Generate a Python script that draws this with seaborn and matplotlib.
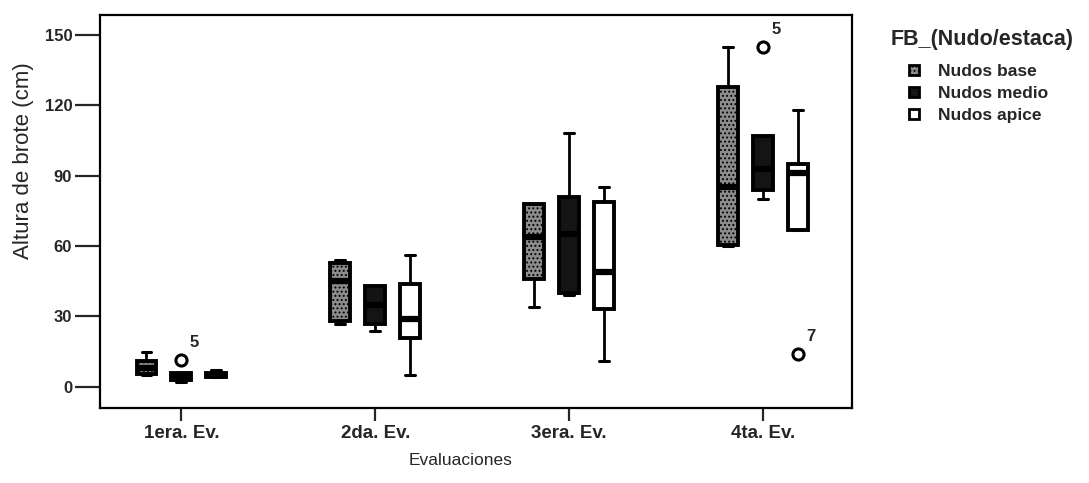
import numpy as np
import pandas as pd
import matplotlib
matplotlib.use("Agg")
import matplotlib.pyplot as plt
from matplotlib.patches import Patch
import seaborn as sns

# ---- data (box-plot summaries) ----
evaluaciones = ["1era. Ev.", "2da. Ev.", "3era. Ev.", "4ta. Ev."]
grupos = ["Nudos base", "Nudos medio", "Nudos apice"]

base_wlow  = [5, 27, 34, 60]
base_q1    = [5.5, 28, 46, 60.5]
base_med   = [8, 45, 64, 85]
base_q3    = [11, 53, 78, 128]
base_whigh = [15, 54, 78, 145]
base_out   = [[], [], [], []]

medio_wlow  = [2, 24, 39, 80]
medio_q1    = [3, 27, 40, 84]
medio_med   = [5, 35, 65, 93]
medio_q3    = [6, 43, 81, 107]
medio_whigh = [6, 43, 108, 107]
medio_out   = [[11.5], [], [], [145]]

apice_wlow  = [4, 5, 11, 67]
apice_q1    = [4, 21, 33, 67]
apice_med   = [5, 29, 49, 91]
apice_q3    = [6, 44, 79, 95]
apice_whigh = [7, 56, 85, 118]
apice_out   = [[], [], [], [14]]

# case numbers written beside the outliers
outlier_values = [11.5, 145, 14]
outlier_cases = ["5", "5", "7"]

summaries = {
    "Nudos base": (base_wlow, base_q1, base_med, base_q3, base_whigh, base_out),
    "Nudos medio": (medio_wlow, medio_q1, medio_med, medio_q3, medio_whigh, medio_out),
    "Nudos apice": (apice_wlow, apice_q1, apice_med, apice_q3, apice_whigh, apice_out),
}

# build samples (n=9) whose quartiles / whiskers reproduce the summaries
rows = []
for g in grupos:
    wl, q1, md, q3, wh, outs = summaries[g]
    for i, ev in enumerate(evaluaciones):
        pts = [wl[i], wl[i], q1[i], q1[i], md[i], q3[i], q3[i], wh[i], wh[i]]
        for o in outs[i]:
            if o > wh[i]:
                pts[-1] = o
            else:
                pts[0] = o
        for p in pts:
            rows.append({"Evaluaciones": ev, "FB": g, "Altura": p})
df = pd.DataFrame(rows)

# ---- styling ----
sns.set_theme(style="white")
plt.rcParams["font.family"] = ["Liberation Sans", "DejaVu Sans"]
plt.rcParams["hatch.color"] = "black"
plt.rcParams["hatch.linewidth"] = 0.9

fill_colors = {"Nudos base": "#8c8c8c", "Nudos medio": "#141414", "Nudos apice": "#ffffff"}

fig = plt.figure(figsize=(10.89, 4.83), dpi=100)
ax = fig.add_axes([0.0918, 0.1553, 0.6906, 0.8137])

sns.boxplot(
    data=df, x="Evaluaciones", y="Altura", hue="FB",
    order=evaluaciones, hue_order=grupos, palette=fill_colors,
    width=0.54, gap=0.43, whis=1.5, legend=False, ax=ax,
    linecolor="black", linewidth=2.2,
    boxprops=dict(edgecolor="black", linewidth=2.8),
    medianprops=dict(color="black", linewidth=4.5),
    whiskerprops=dict(color="black", linewidth=2.0),
    capprops=dict(color="black", linewidth=2.2),
    flierprops=dict(marker="o", markerfacecolor="white", markeredgecolor="black",
                    markersize=8, markeredgewidth=2.2),
)

# pattern for the "base" boxes
for p in ax.patches:
    fc = p.get_facecolor()
    if abs(fc[0] - 0x8c / 255) < 0.02:
        p.set_hatch("....")

# case labels next to outliers
for ln in ax.lines:
    if ln.get_marker() == "o":
        xs, ys = ln.get_xdata(), ln.get_ydata()
        for xv, yv in zip(xs, ys):
            for ov, lab in zip(outlier_values, outlier_cases):
                if abs(yv - ov) < 0.01:
                    ax.annotate(lab, (xv, yv), xytext=(6, 7), textcoords="offset points",
                                fontsize=12, fontweight="bold", ha="left", va="bottom")

ax.set_ylim(-9, 158.5)
ax.set_xlim(-0.42, 3.46)
ax.set_yticks([0, 30, 60, 90, 120, 150])
ax.set_xlabel("Evaluaciones", fontsize=12.5)
ax.set_ylabel("Altura de brote (cm)", fontsize=16)
ax.xaxis.set_label_coords(0.479, -0.115)
ax.yaxis.set_label_coords(-0.088, 0.63)
ax.tick_params(axis="both", which="major", direction="out", width=1.6,
               bottom=True, left=True, top=False, right=False)
ax.tick_params(axis="x", labelsize=13.5, length=9, pad=3)
ax.tick_params(axis="y", labelsize=12, length=18, pad=2)
for lab in ax.get_xticklabels() + ax.get_yticklabels():
    lab.set_fontweight("bold")
for s in ax.spines.values():
    s.set_visible(True)
    s.set_color("black")
    s.set_linewidth(1.6)

# legend: title and entries
fig.text(891 / 1089, 1 - 29 / 483, "FB_(Nudo/estaca)", fontsize=15.5, fontweight="bold",
         ha="left", va="top")
handles = [
    Patch(facecolor=fill_colors["Nudos base"], edgecolor="black", linewidth=2, hatch="...."),
    Patch(facecolor=fill_colors["Nudos medio"], edgecolor="black", linewidth=2),
    Patch(facecolor=fill_colors["Nudos apice"], edgecolor="black", linewidth=2),
]
leg = fig.legend(handles, grupos, loc="upper left",
                 bbox_to_anchor=(909 / 1089, 1 - 64 / 483), frameon=False,
                 prop=dict(size=12.5, weight="bold"), handlelength=0.55, handleheight=0.55,
                 handletextpad=1.1, labelspacing=0.4, borderaxespad=0, borderpad=0)

fig.savefig("out.png", dpi=100)
